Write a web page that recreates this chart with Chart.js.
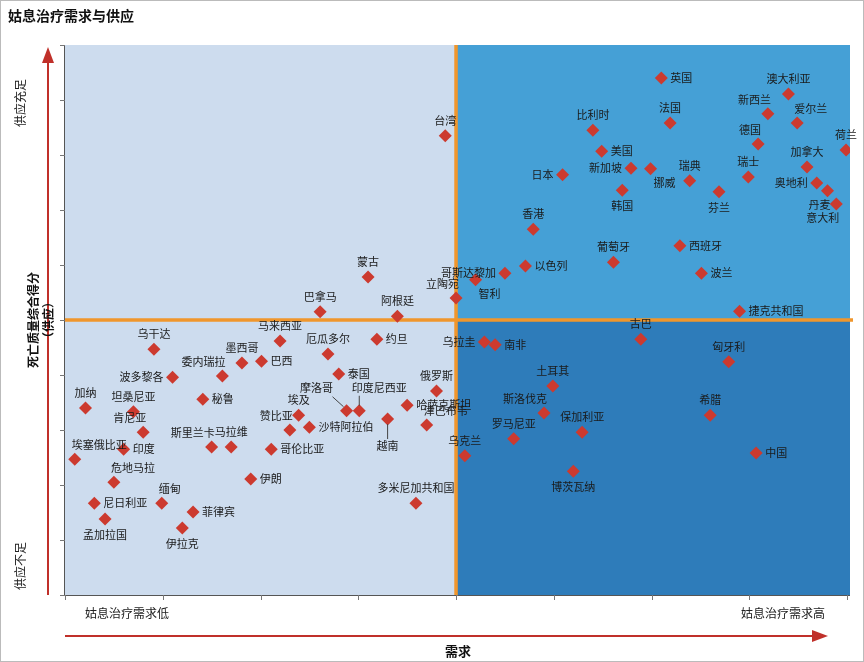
<!DOCTYPE html>
<html><head><meta charset="utf-8">
<script src="https://cdn.jsdelivr.net/npm/chart.js@4"></script>
<style>html,body{margin:0;padding:0;background:#fff}#w{width:864px;height:662px;position:relative}</style>
</head><body><div id="w"><canvas id="c" width="864" height="662"></canvas></div>
<script>
const countries = ["英国","澳大利亚","新西兰","爱尔兰","法国","比利时","德国","荷兰","美国","新加坡","挪威","瑞典","日本","瑞士","加拿大","奥地利","丹麦","意大利","韩国","芬兰","香港","西班牙","葡萄牙","以色列","波兰","哥斯达黎加","智利","立陶宛","台湾","捷克共和国","蒙古","巴拿马","阿根廷",
"乌拉圭","南非","古巴","匈牙利","土耳其","斯洛伐克","希腊","保加利亚","罗马尼亚","乌克兰","中国","博茨瓦纳",
"马来西亚","乌干达","厄瓜多尔","约旦","墨西哥","巴西","委内瑞拉","波多黎各","泰国","俄罗斯","加纳","坦桑尼亚","秘鲁","埃及","摩洛哥","印度尼西亚","越南","哈萨克斯坦","津巴布韦","赞比亚","沙特阿拉伯","肯尼亚","埃塞俄比亚","印度","斯里兰卡","马拉维","哥伦比亚","危地马拉","伊朗","尼日利亚","缅甸","菲律宾","孟加拉国","伊拉克","多米尼加共和国"];
const demand = [6.10,7.40,7.19,7.49,6.19,5.40,7.09,7.99,5.49,5.79,5.99,6.39,5.09,6.99,7.59,7.69,7.80,7.89,5.70,6.69,4.79,6.29,5.61,4.71,6.51,4.50,4.20,4.00,3.89,6.90,3.10,2.61,3.40,
4.29,4.40,5.89,6.79,4.99,4.90,6.60,5.29,4.59,4.09,7.07,5.20,
2.20,0.91,2.69,3.19,1.81,2.01,1.61,1.10,2.80,3.80,0.21,0.70,1.41,2.39,2.88,3.01,3.30,3.50,3.70,2.30,2.50,0.80,0.10,0.60,1.50,1.70,2.11,0.50,1.90,0.30,0.99,1.31,0.41,1.20,3.59];
const supply = [9.40,9.11,8.75,8.58,8.58,8.45,8.20,8.09,8.07,7.76,7.75,7.53,7.64,7.60,7.78,7.49,7.35,7.11,7.36,7.33,6.65,6.35,6.05,5.98,5.85,5.85,5.73,5.40,8.35,5.16,5.78,5.15,5.07,
4.60,4.55,4.65,4.24,3.80,3.31,3.27,2.96,2.84,2.53,2.58,2.25,
4.62,4.47,4.38,4.65,4.22,4.25,3.98,3.96,4.02,3.71,3.40,3.33,3.56,3.27,3.35,3.35,3.20,3.45,3.09,3.00,3.05,2.96,2.47,2.65,2.69,2.69,2.65,2.05,2.11,1.67,1.67,1.51,1.38,1.22,1.67];
const labelSide = ["r","t","tl","tr","t","t","tl","t","r","l","br","t","l","t","t","l","bl","bl","b","b","t","r","t","r","r","l","br","tl","t","r","t","t","t",
"l","r","t","t","t","tl","t","t","t","t","r","b",
"t","t","t","r","t","r","tl","l","r","t","t","t","r","t","ld","lu","ldn","r","tr","tl","r","tl","tr","r","tl","t","r","tr","r","r","tr","r","b","b","t"];
const xTickLabels = ["姑息治疗需求低","姑息治疗需求高"];
const yTickLabels = ["供应不足","供应充足"];

const FONT = '"Noto Sans CJK SC","Noto Sans",sans-serif';
const deco = {
  id:'deco',
  beforeDraw(ch){
    const {ctx,chartArea:a,scales:{x,y}} = ch;
    const cx = x.getPixelForValue(4), cy = y.getPixelForValue(5);
    ctx.save();
    ctx.fillStyle='#fff';ctx.fillRect(0,0,864,662);
    ctx.strokeStyle='#bbb';ctx.lineWidth=1;ctx.strokeRect(0.5,0.5,863,661);
    ctx.fillStyle='#cddcee';ctx.fillRect(a.left,a.top,cx-a.left,a.bottom-a.top);
    ctx.fillStyle='#45a0d6';ctx.fillRect(cx,a.top,a.right-cx,cy-a.top);
    ctx.fillStyle='#2e7cba';ctx.fillRect(cx,cy,a.right-cx,a.bottom-cy);
    // axes
    ctx.strokeStyle='#555';ctx.lineWidth=1;
    ctx.beginPath();ctx.moveTo(a.left-0.5,a.top);ctx.lineTo(a.left-0.5,a.bottom+0.5);ctx.lineTo(a.right,a.bottom+0.5);ctx.stroke();
    ctx.strokeStyle='#777';
    for(let i=0;i<=10;i++){const py=Math.round(y.getPixelForValue(i))+0.5;ctx.beginPath();ctx.moveTo(a.left-5,py);ctx.lineTo(a.left,py);ctx.stroke();}
    for(let i=0;i<=8;i++){const px=Math.round(x.getPixelForValue(i))+0.5;ctx.beginPath();ctx.moveTo(px,a.bottom);ctx.lineTo(px,a.bottom+5);ctx.stroke();}
    // title
    ctx.fillStyle='#111';ctx.font='bold 14px '+FONT;ctx.textAlign='left';ctx.textBaseline='middle';
    ctx.fillText('姑息治疗需求与供应',8,16);
    // x labels
    ctx.font='12px '+FONT;ctx.fillStyle='#222';ctx.textAlign='center';
    ctx.fillText(xTickLabels[0],127,613);ctx.fillText(xTickLabels[1],783,613);
    // arrows
    ctx.strokeStyle='#c0302a';ctx.fillStyle='#c0302a';ctx.lineWidth=2;
    ctx.beginPath();ctx.moveTo(65,636);ctx.lineTo(815,636);ctx.stroke();
    ctx.beginPath();ctx.moveTo(828,636);ctx.lineTo(812,630);ctx.lineTo(812,642);ctx.closePath();ctx.fill();
    ctx.beginPath();ctx.moveTo(48,595);ctx.lineTo(48,60);ctx.stroke();
    ctx.beginPath();ctx.moveTo(48,47);ctx.lineTo(42,63);ctx.lineTo(54,63);ctx.closePath();ctx.fill();
    ctx.fillStyle='#111';ctx.font='bold 13px '+FONT;ctx.textAlign='center';
    ctx.fillText('需求',458,651);
    // y labels rotated
    ctx.save();ctx.translate(34,320);ctx.rotate(-Math.PI/2);
    ctx.font='bold 12px '+FONT;ctx.fillText('死亡质量综合得分',0,-1);ctx.fillText('（供应）',0,14);ctx.restore();
    ctx.font='12px '+FONT;ctx.fillStyle='#222';
    ctx.save();ctx.translate(20,103);ctx.rotate(-Math.PI/2);ctx.fillText(yTickLabels[1],0,0);ctx.restore();
    ctx.save();ctx.translate(20,566);ctx.rotate(-Math.PI/2);ctx.fillText(yTickLabels[0],0,0);ctx.restore();
    ctx.restore();
  },
  beforeDatasetsDraw(ch){
    const {ctx,chartArea:a,scales:{x,y}} = ch;
    const cx = x.getPixelForValue(4), cy = y.getPixelForValue(5);
    ctx.save();ctx.strokeStyle='#f0962c';ctx.lineWidth=3.5;
    ctx.beginPath();ctx.moveTo(cx,a.top);ctx.lineTo(cx,a.bottom);ctx.moveTo(a.left,cy);ctx.lineTo(a.right+3,cy);ctx.stroke();
    ctx.restore();
  },
  afterDatasetsDraw(ch){
    const ctx=ch.ctx;const meta=ch.getDatasetMeta(0);
    ctx.save();ctx.font='11px '+FONT;ctx.fillStyle='#1a1a1a';ctx.textBaseline='middle';ctx.strokeStyle='#444';ctx.lineWidth=1;
    meta.data.forEach((p,i)=>{
      const t=countries[i],s=labelSide[i],x=p.x,y=p.y;
      if(s==='r'){ctx.textAlign='left';ctx.fillText(t,x+9,y);}
      else if(s==='l'){ctx.textAlign='right';ctx.fillText(t,x-9,y);}
      else if(s==='t'){ctx.textAlign='center';ctx.fillText(t,x,y-15);}
      else if(s==='b'){ctx.textAlign='center';ctx.fillText(t,x,y+16);}
      else if(s==='tl'){ctx.textAlign='right';ctx.fillText(t,x+3,y-14);}
      else if(s==='tr'){ctx.textAlign='left';ctx.fillText(t,x-3,y-14);}
      else if(s==='bl'){ctx.textAlign='right';ctx.fillText(t,x+3,y+14);}
      else if(s==='br'){ctx.textAlign='left';ctx.fillText(t,x+3,y+14);}
      else if(s==='ld'){ctx.beginPath();ctx.moveTo(x-3,y-4);ctx.lineTo(x-14,y-14);ctx.stroke();ctx.textAlign='center';ctx.fillText(t,x-30,y-23);}
      else if(s==='lu'){ctx.beginPath();ctx.moveTo(x,y-5);ctx.lineTo(x,y-15);ctx.stroke();ctx.textAlign='center';ctx.fillText(t,x+20,y-23);}
      else if(s==='ldn'){ctx.beginPath();ctx.moveTo(x,y+5);ctx.lineTo(x,y+20);ctx.stroke();ctx.textAlign='center';ctx.fillText(t,x,y+27);}
    });
    ctx.restore();
  }
};
new Chart(document.getElementById('c'),{
  type:'scatter',
  data:{datasets:[{data:demand.map((v,i)=>({x:v,y:supply[i]})),pointStyle:'rectRot',pointRadius:6.5,pointHoverRadius:6.5,backgroundColor:'#cc3a2f',borderColor:'#cc3a2f',borderWidth:0}]},
  options:{responsive:false,animation:false,events:[],
    layout:{padding:{left:65,right:14,top:45,bottom:67}},
    scales:{x:{type:'linear',min:0,max:8.03,display:false},y:{type:'linear',min:0,max:10,display:false}},
    plugins:{legend:{display:false},tooltip:{enabled:false}}},
  plugins:[deco]
});
</script></body></html>
